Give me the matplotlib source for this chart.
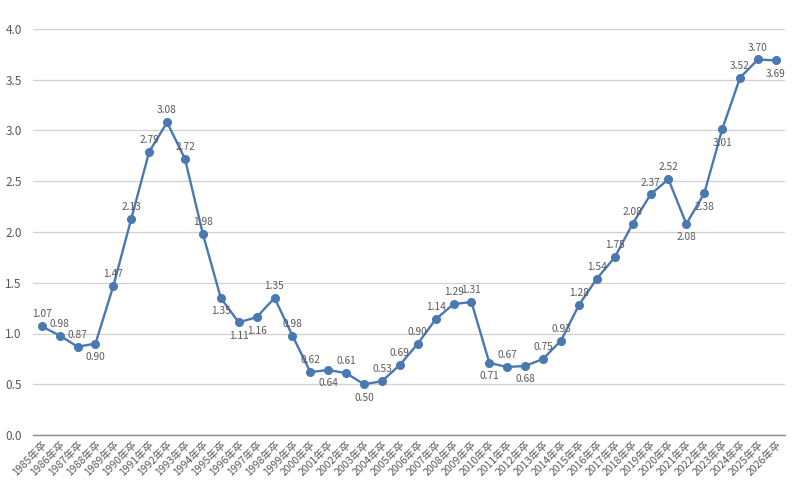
import matplotlib
matplotlib.use("Agg")
import matplotlib.pyplot as plt  # noqa: E402

plt.rcParams["font.family"] = ["Noto Sans CJK JP", "DejaVu Sans"]

years = list(range(1985, 2027))
labels = [f"{y}年卒" for y in years]
ratios = [
    1.07, 0.98, 0.87, 0.90, 1.47, 2.13, 2.79, 3.08, 2.72, 1.98,
    1.35, 1.11, 1.16, 1.35, 0.98, 0.62, 0.64, 0.61, 0.50, 0.53,
    0.69, 0.90, 1.14, 1.29, 1.31, 0.71, 0.67, 0.68, 0.75, 0.93,
    1.28, 1.54, 1.75, 2.08, 2.37, 2.52, 2.08, 2.38, 3.01, 3.52,
    3.70, 3.69,
]
# where each value label sits: "a" above the point, "b" below
label_side = [
    "a", "a", "a", "b", "a", "a", "a", "a", "a", "a",
    "b", "b", "b", "a", "a", "a", "b", "a", "b", "a",
    "a", "a", "a", "a", "a", "b", "a", "b", "a", "a",
    "a", "a", "a", "a", "a", "a", "b", "b", "b", "a",
    "a", "b",
]

line_color = "#4a78b0"
text_color = "#595959"

fig = plt.figure(figsize=(8, 5), dpi=100)
ax = fig.add_axes([0.041, 0.13, 0.94, 0.812])

xs = list(range(len(labels)))
ax.plot(xs, ratios, color=line_color, linewidth=1.7, marker="o",
        markersize=5.5, zorder=3)

for x, v, side in zip(xs, ratios, label_side):
    dy = 5 if side == "a" else -6
    va = "bottom" if side == "a" else "top"
    ax.annotate(f"{v:.2f}", (x, v), xytext=(0, dy), textcoords="offset points",
                ha="center", va=va, fontsize=7.3, color=text_color)

ax.set_xlim(-0.5, len(labels) - 0.5)
ax.set_ylim(0, 4.0)
ax.set_yticks([0, 0.5, 1.0, 1.5, 2.0, 2.5, 3.0, 3.5, 4.0])
ax.yaxis.set_major_formatter(matplotlib.ticker.FormatStrFormatter("%.1f"))
ax.set_xticks(xs)
ax.set_xticklabels(labels, rotation=45, ha="right", rotation_mode="anchor")

ax.grid(axis="y", color="#d0d0d0", linewidth=0.9)
ax.set_axisbelow(True)
for side in ("top", "right", "left"):
    ax.spines[side].set_visible(False)
ax.spines["bottom"].set_color("#8c8c8c")
ax.spines["bottom"].set_linewidth(1.0)

ax.tick_params(axis="y", length=0, labelsize=8.5, labelcolor=text_color, pad=8)
ax.tick_params(axis="x", length=0, labelsize=7.5, labelcolor=text_color, pad=3)

fig.savefig("out.png", dpi=100)
plt.close(fig)
